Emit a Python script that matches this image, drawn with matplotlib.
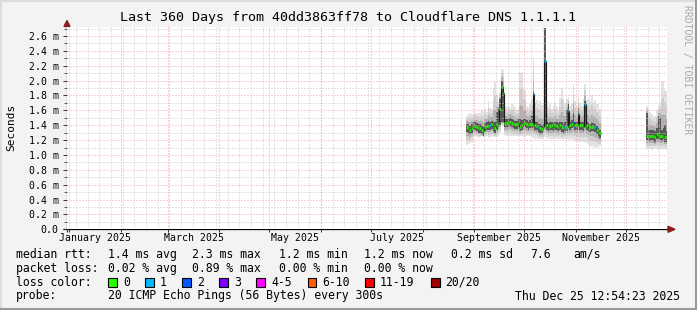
import numpy as np
import matplotlib
matplotlib.use('Agg')
import matplotlib.pyplot as plt
import matplotlib.dates as mdates
from matplotlib.patches import Polygon, Rectangle
from datetime import datetime, timedelta

# ---------------- data ----------------
title = "Last 360 Days from 40dd3863ff78 to Cloudflare DNS 1.1.1.1"
end_time = datetime(2025, 12, 25, 12, 54, 23)
span_days = 360

y_ticks = [0.0, 0.2, 0.4, 0.6, 0.8, 1.0, 1.2, 1.4, 1.6, 1.8, 2.0, 2.2, 2.4, 2.6]
y_tick_labels = ["0.0", "0.2 m", "0.4 m", "0.6 m", "0.8 m", "1.0 m", "1.2 m", "1.4 m",
                 "1.6 m", "1.8 m", "2.0 m", "2.2 m", "2.4 m", "2.6 m"]
x_label_months = ["2025-01", "2025-03", "2025-05", "2025-07", "2025-09", "2025-11"]
x_label_texts = ["January 2025", "March 2025", "May 2025", "July 2025",
                 "September 2025", "November 2025"]

# segment 1: daily values from 2025-08-27 (ms)
seg1_start = "2025-08-27"
seg1_median = [1.37,1.36,1.34,1.36,1.39,1.39,1.38,1.36,1.36,1.34,
               1.32,1.38,1.39,1.39,1.40,1.41,1.38,1.36,1.40,1.43,
               1.62,1.92,1.83,1.43,1.43,1.43,1.45,1.43,1.42,1.41,
               1.41,1.43,1.38,1.40,1.43,1.43,1.42,1.40,1.42,1.42,
               1.82,1.40,1.39,1.37,1.36,1.35,1.38,2.26,1.40,1.38,
               1.39,1.40,1.38,1.40,1.39,1.38,1.40,1.37,1.36,1.38,
               1.38,1.59,1.40,1.42,1.45,1.40,1.40,1.55,1.40,1.40,
               1.38,1.69,1.40,1.38,1.37,1.38,1.38,1.37,1.34,1.31,1.29]
seg1_loss = [0,0,0,0,0,0,0,0,0,0,
             0,0,0,0,1,0,0,0,0,0,
             0,0,0,0,0,0,0,0,0,0,
             0,0,0,0,0,0,0,0,0,0,
             1,0,0,1,0,0,0,1,0,0,
             0,0,0,0,0,0,0,0,0,1,
             0,1,0,0,1,0,0,1,0,0,
             0,1,0,0,0,0,0,1,0,0,0]
seg1_max = [1.53,1.55,1.56,1.55,1.54,1.56,1.57,1.55,1.56,1.60,
            1.58,1.62,1.58,1.72,1.63,1.62,1.90,1.98,1.80,1.70,
            1.85,2.15,2.14,1.66,1.64,1.68,1.65,1.68,1.67,1.64,
            1.60,1.62,2.10,2.12,1.90,1.88,1.66,1.64,1.68,1.75,
            2.30,1.70,1.74,1.68,1.72,1.67,1.70,2.71,1.72,1.64,
            1.68,1.62,1.66,1.70,1.64,1.60,1.76,1.90,1.76,1.70,
            1.75,1.78,1.66,1.70,1.96,1.72,1.66,1.76,1.70,1.66,
            1.75,1.95,1.74,1.78,1.72,1.80,1.70,1.74,1.68,1.70,1.62]
seg1_min = [1.14,1.15,1.16,1.18,1.24,1.25,1.24,1.23,1.24,1.25,
            1.24,1.24,1.25,1.23,1.24,1.24,1.25,1.24,1.24,1.26,
            1.30,1.40,1.40,1.27,1.26,1.25,1.26,1.25,1.24,1.26,
            1.25,1.24,1.25,1.26,1.25,1.24,1.25,1.26,1.25,1.24,
            1.23,1.22,1.23,1.22,1.21,1.22,1.23,1.24,1.22,1.23,
            1.22,1.21,1.22,1.23,1.22,1.21,1.22,1.21,1.20,1.21,
            1.22,1.21,1.20,1.21,1.19,1.20,1.19,1.20,1.18,1.19,
            1.18,1.17,1.16,1.13,1.12,1.11,1.12,1.10,1.11,1.10,1.12]
seg1_core_lo = [1.31,1.30,1.28,1.30,1.33,1.33,1.32,1.30,1.30,1.28,
                1.26,1.32,1.33,1.33,1.34,1.35,1.32,1.30,1.34,1.37,
                1.40,1.45,1.45,1.37,1.37,1.37,1.39,1.37,1.36,1.35,
                1.35,1.37,1.32,1.34,1.37,1.37,1.36,1.34,1.36,1.36,
                1.37,1.34,1.33,1.31,1.30,1.29,1.32,1.38,1.34,1.32,
                1.33,1.34,1.32,1.34,1.33,1.32,1.34,1.31,1.30,1.32,
                1.32,1.38,1.34,1.36,1.38,1.34,1.34,1.38,1.34,1.34,
                1.32,1.38,1.34,1.32,1.31,1.32,1.32,1.31,1.28,1.25,1.23]
seg1_core_hi = [1.42,1.41,1.39,1.41,1.44,1.44,1.43,1.41,1.41,1.39,
                1.37,1.43,1.44,1.46,1.45,1.46,1.45,1.44,1.58,1.62,
                1.75,2.00,1.92,1.48,1.48,1.48,1.50,1.48,1.47,1.46,
                1.46,1.48,1.48,1.47,1.48,1.48,1.47,1.45,1.47,1.52,
                1.85,1.45,1.44,1.42,1.41,1.40,1.43,2.71,1.45,1.43,
                1.44,1.45,1.43,1.45,1.44,1.43,1.45,1.44,1.42,1.44,
                1.60,1.68,1.45,1.47,1.56,1.45,1.45,1.63,1.45,1.45,
                1.44,1.73,1.45,1.43,1.42,1.43,1.43,1.42,1.39,1.36,1.34]

# segment 2: daily values from 2025-12-13 (ms)
seg2_start = "2025-12-13"
seg2_median = [1.26,1.26,1.25,1.26,1.25,1.24,1.28,1.27,1.26,1.25,1.28,1.24,1.24]
seg2_loss = [0,0,0,0,0,0,0,0,0,0,0,0,0]
seg2_max = [1.66,1.62,1.58,1.55,1.52,1.52,1.60,1.66,1.70,1.98,2.00,1.88,1.85]
seg2_min = [1.08,1.09,1.08,1.07,1.08,1.09,1.08,1.07,1.08,1.08,1.07,1.08,1.07]
seg2_core_lo = [1.20,1.20,1.19,1.20,1.19,1.18,1.22,1.21,1.20,1.19,1.22,1.18,1.18]
seg2_core_hi = [1.56,1.34,1.33,1.34,1.33,1.32,1.36,1.52,1.50,1.34,1.36,1.40,1.32]

loss_labels = ["0", "1", "2", "3", "4-5", "6-10", "11-19", "20/20"]
loss_colors = ["#26ff00", "#00b8ff", "#0059ff", "#7a00ff", "#ff00ff", "#ff5a00", "#ff0000", "#a10000"]

stats_rtt = ["1.4 ms avg", "2.3 ms max", "1.2 ms min", "1.2 ms now", "0.2 ms sd", "7.6", "am/s"]
stats_loss = ["0.02 % avg", "0.89 % max", "0.00 % min", "0.00 % now"]
probe_text = "20 ICMP Echo Pings (56 Bytes) every 300s"
stamp_text = "Thu Dec 25 12:54:23 2025"

# ---------------- layout ----------------
W, H = 697, 310
MONO = "DejaVu Sans Mono"
fig = plt.figure(figsize=(W / 100, H / 100), dpi=100)
fig.patch.set_facecolor("#f3f3f3")

PL, PR, PT, PB = 67, 667, 26.5, 229.3
y_top = 2.728
start_time = end_time - timedelta(days=span_days)

# overlay axes in pixel coordinates for text / frame
ov = fig.add_axes([0, 0, 1, 1], zorder=0)
ov.set_xlim(0, W)
ov.set_ylim(H, 0)
ov.set_axis_off()

ax = fig.add_axes([PL / W, 1 - PB / H, (PR - PL) / W, (PB - PT) / H], zorder=1)
ax.set_facecolor("white")
x0n, x1n = mdates.date2num(start_time), mdates.date2num(end_time)
ax.set_xlim(x0n, x1n)
ax.set_ylim(0, y_top)
for s in ax.spines.values():
    s.set_visible(False)

end_num = mdates.date2num(end_time)


def draw_segment(start, med, loss, lo, hi, clo, chi):
    n = len(med)
    t0 = datetime.fromisoformat(start)
    edges = np.array([mdates.date2num(t0 + timedelta(days=i)) for i in range(n + 1)])
    edges = np.minimum(edges, end_num)
    med = np.asarray(med, float)
    lo = np.asarray(lo, float); hi = np.asarray(hi, float)
    clo = np.asarray(clo, float); chi = np.asarray(chi, float)

    def ext(a):
        return np.append(a, a[-1])

    shades = [(0.0, "#e2e2e2"), (0.35, "#cfcfcf"), (0.7, "#b0b0b0")]
    for frac, col in shades:
        ylo = lo + (clo - lo) * frac
        yhi = hi + (chi - hi) * frac
        ax.fill_between(edges, ext(ylo), ext(yhi), step="post", color=col, lw=0, zorder=2)
    ax.fill_between(edges, ext(clo), ext(chi), step="post", color="#585858", lw=0, zorder=3)
    ax.step(edges, ext(med), where="post", color="#1a1a1a", lw=0.8, zorder=5)
    for i in range(n):
        ax.hlines(med[i], edges[i], edges[i + 1], color=loss_colors[loss[i]], lw=1.8, zorder=6)


draw_segment(seg1_start, seg1_median, seg1_loss, seg1_min, seg1_max, seg1_core_lo, seg1_core_hi)
draw_segment(seg2_start, seg2_median, seg2_loss, seg2_min, seg2_max, seg2_core_lo, seg2_core_hi)

# grid
dot = (0, (1, 2))
minor_col = "#c8c8c8"
major_col = "#f0a4a4"
for k in range(1, 28):
    v = k * 0.1
    if k % 2 == 1:
        ax.axhline(v, color=minor_col, lw=0.72, ls=dot, zorder=4)
# weekly minor vertical grid (Sundays)
d = datetime(2024, 12, 29)
while d < end_time:
    if d > start_time:
        ax.axvline(mdates.date2num(d), color=minor_col, lw=0.72, ls=dot, zorder=4)
    d += timedelta(days=7)
# monthly major vertical grid
month_starts = []
for m in range(1, 13):
    month_starts.append(mdates.date2num(datetime(2025, m, 1)))
for ms in month_starts:
    ax.axvline(ms, color=major_col, lw=0.72, ls=dot, zorder=4)
for v in y_ticks[1:]:
    ax.axhline(v, color=major_col, lw=0.72, ls=dot, zorder=4)

# ticks
ax.set_yticks(y_ticks)
ax.set_yticklabels(y_tick_labels, fontfamily=MONO, fontsize=7.1)
ax.set_yticks([0.1 * k for k in range(1, 28, 2)], minor=True)
ax.tick_params(axis="y", which="major", length=3, width=0.7, direction="out", pad=3, color="#333333")
ax.tick_params(axis="y", which="minor", length=2, width=0.7, direction="out", color="#555555")

mid_pos = []
for ym in x_label_months:
    y, m = map(int, ym.split("-"))
    a = datetime(y, m, 1)
    b = datetime(y + (m // 12), m % 12 + 1, 1)
    mid_pos.append(mdates.date2num(a + (b - a) / 2))
ax.set_xticks(mid_pos)
ax.set_xticklabels(x_label_texts, fontfamily=MONO, fontsize=7.1)
ax.set_xticks(month_starts, minor=True)
ax.tick_params(axis="x", which="major", length=0, pad=3)
ax.tick_params(axis="x", which="minor", length=2, width=0.7, direction="out", color="#333333")

# axes lines and arrows
arrow_col = "#8b1e1e"
ov.plot([63, 670], [PB, PB], color="black", lw=0.9, solid_capstyle="butt", zorder=3)
ov.plot([PL, PL], [PB + 3, 25], color="#6b2a2a", lw=0.9, solid_capstyle="butt", zorder=3)
ov.add_patch(Polygon([[668, PB - 3], [675, PB], [668, PB + 3]], closed=True, color=arrow_col, zorder=4))
ov.add_patch(Polygon([[PL - 3, 26.5], [PL, 20.5], [PL + 3, 26.5]], closed=True, color=arrow_col, zorder=4))

# frame shading
ov.plot([0, W], [0.5, 0.5], color="#dcdcdc", lw=1.4)
ov.plot([0.5, 0.5], [0, H], color="#dcdcdc", lw=1.4)
ov.plot([0, W], [H - 1.2, H - 1.2], color="#9a9a9a", lw=2.2)
ov.plot([W - 1.2, W - 1.2], [0, H], color="#9a9a9a", lw=2.2)

# title and labels
ov.text(348, 18, title, ha="center", va="center", fontfamily=MONO, fontsize=9.6, color="black")
ov.text(11, 127, "Seconds", ha="center", va="center", rotation=90, fontfamily=MONO, fontsize=8, color="black")
ov.text(687, 5, "RRDTOOL / TOBI OETIKER", ha="center", va="top", rotation=270,
        fontfamily=MONO, fontsize=7, color="#aaaaaa")

# legend area
fs = 8.3
row_y = [254.3, 268.3, 282.3, 296.0]
ov.text(16, row_y[0], "median rtt:", ha="left", va="center", fontfamily=MONO, fontsize=fs)
for xp, t in zip([107.6, 192.4, 279, 364, 451, 530, 573], stats_rtt):
    ov.text(xp, row_y[0], t, ha="left", va="center", fontfamily=MONO, fontsize=fs)
ov.text(16, row_y[1], "packet loss:", ha="left", va="center", fontfamily=MONO, fontsize=fs)
for xp, t in zip([107.6, 192.4, 279, 364], stats_loss):
    ov.text(xp, row_y[1], t, ha="left", va="center", fontfamily=MONO, fontsize=fs)
ov.text(16, row_y[2], "loss color:", ha="left", va="center", fontfamily=MONO, fontsize=fs)
box_x = [108, 145.3, 182, 219, 256.4, 307.6, 365, 431]
lab_x = [123.6, 160, 197, 234, 271, 322, 380, 445]
for bx, lx, lab, col in zip(box_x, lab_x, loss_labels, loss_colors):
    ov.add_patch(Rectangle((bx, row_y[2] - 4.5), 8.5, 9, facecolor=col, edgecolor="black", lw=0.8))
    ov.text(lx, row_y[2], lab, ha="left", va="center", fontfamily=MONO, fontsize=fs)
ov.text(16, row_y[3], "probe:", ha="left", va="center", fontfamily=MONO, fontsize=fs)
ov.text(107.6, row_y[3], probe_text, ha="left", va="center", fontfamily=MONO, fontsize=fs)
ov.text(680, row_y[3], stamp_text, ha="right", va="center", fontfamily=MONO, fontsize=fs)

fig.savefig("out.png", dpi=100, facecolor=fig.get_facecolor())
